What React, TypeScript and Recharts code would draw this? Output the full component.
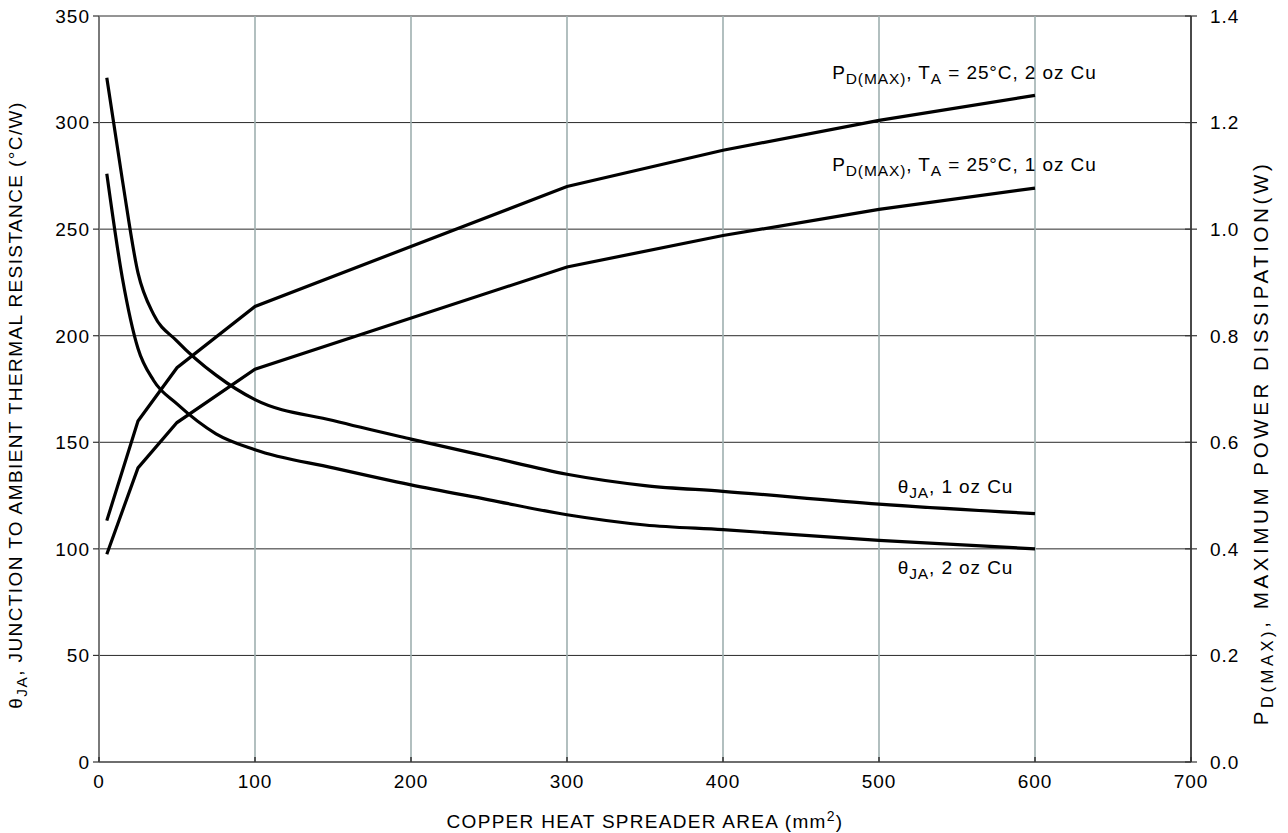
import React from 'react';
import { LineChart, Line, XAxis, YAxis, CartesianGrid, ReferenceDot } from 'recharts';

// ---- data ----
const areas = [5, 15, 25, 35, 50, 75, 100, 150, 200, 250, 300, 350, 400, 500, 600];
const thetaJA1oz = [321, 273, 229.5, 210, 197.5, 181.5, 170, 160.2, 151.5, 143.2, 135, 129.7, 127, 121, 116.5];
const thetaJA2oz = [276, 227, 194, 179, 168, 154, 146.5, 138, 130, 123, 116, 111.2, 109, 104, 100];
// power dissipation (read only at the polyline vertices)
const pd1oz = [0.39, null, 0.552, null, 0.637, null, 0.737, null, null, null, 0.929, null, 0.988, 1.037, 1.077];
const pd2oz = [0.453, null, 0.64, null, 0.74, null, 0.855, null, null, null, 1.08, null, 1.148, 1.204, 1.251];

const xTicks = [0, 100, 200, 300, 400, 500, 600, 700];
const leftTicks = [0, 50, 100, 150, 200, 250, 300, 350];
const rightTicks = [0, 0.2, 0.4, 0.6, 0.8, 1.0, 1.2, 1.4];

const data = areas.map((a, i) => ({
  area: a,
  t1: thetaJA1oz[i],
  t2: thetaJA2oz[i],
  p1: pd1oz[i],
  p2: pd2oz[i],
}));

const FONT = '"Liberation Sans", Arial, Helvetica, sans-serif';
const FS = 19;
const SUB = 15.5;

type Seg = { t: string; sub?: boolean };
const pdLabel = (oz: string): Seg[] => [
  { t: 'P' }, { t: 'D(MAX)', sub: true }, { t: ', T' }, { t: 'A', sub: true }, { t: ` = 25\u00B0C, ${oz} oz Cu` },
];
const thetaLabel = (oz: string): Seg[] => [
  { t: '\u03B8' }, { t: 'JA', sub: true }, { t: `, ${oz} oz Cu` },
];

const annotations = [
  { x: 470, y: 1.281, axis: 'right', segs: pdLabel('2') },
  { x: 470, y: 1.109, axis: 'right', segs: pdLabel('1') },
  { x: 512, y: 126.3, axis: 'left', segs: thetaLabel('1') },
  { x: 512, y: 88.0, axis: 'left', segs: thetaLabel('2') },
];

const renderSegs = (segs: Seg[], fs = FS, sub = SUB) => {
  let prevSub = false;
  return segs.map((s, i) => {
    let dy = 0;
    if (s.sub && !prevSub) dy = 5;
    if (!s.sub && prevSub) dy = -5;
    prevSub = !!s.sub;
    return (
      <tspan key={i} dy={dy} fontSize={s.sub ? sub : fs}>
        {s.t}
      </tspan>
    );
  });
};

const AnnotText = (segs: Seg[]) => (props: any) => {
  const vb = props.viewBox || {};
  return (
    <text x={vb.x} y={vb.y} fill="#000" fontFamily={FONT} fontSize={FS} letterSpacing={0.9} textAnchor="start">
      {renderSegs(segs)}
    </text>
  );
};

const XTick = (props: any) => {
  const { x, y, payload } = props;
  return (
    <g>
      <line x1={x} x2={x} y1={y - 5} y2={y} stroke="#333" strokeWidth={1.5} />
      <text x={x} y={y + 26} textAnchor="middle" fill="#000" fontFamily={FONT} fontSize={FS} letterSpacing={1}>
        {payload.value}
      </text>
    </g>
  );
};

const LeftTick = (props: any) => {
  const { x, y, payload } = props;
  return (
    <g>
      <line x1={x - 6} x2={x} y1={y} y2={y} stroke="#333" strokeWidth={1.2} />
      <text x={x - 9} y={y} dy="0.36em" textAnchor="end" fill="#000" fontFamily={FONT} fontSize={FS} letterSpacing={1}>
        {payload.value}
      </text>
    </g>
  );
};

const RightTick = (props: any) => {
  const { x, y, payload } = props;
  return (
    <g>
      <line x1={x - 6} x2={x + 6} y1={y} y2={y} stroke="#333" strokeWidth={1.2} />
      <text x={x + 19} y={y} dy="0.36em" textAnchor="start" fill="#000" fontFamily={FONT} fontSize={FS} letterSpacing={1}>
        {Number(payload.value).toFixed(1)}
      </text>
    </g>
  );
};

const LeftTitle = (props: any) => {
  const vb = props.viewBox || { x: 0, y: 0, width: 0, height: 0 };
  const cx = vb.x + 22;
  const cy = vb.y + vb.height / 2 + 16;
  return (
    <text x={cx} y={cy} transform={`rotate(-90, ${cx}, ${cy})`} textAnchor="middle" dy="0.36em" fill="#000" fontFamily={FONT} fontSize={FS} letterSpacing={1.4}>
      {renderSegs([{ t: '\u03B8' }, { t: 'JA', sub: true }, { t: ', JUNCTION TO AMBIENT THERMAL RESISTANCE (\u00B0C/W)' }])}
    </text>
  );
};

const RightTitle = (props: any) => {
  const vb = props.viewBox || { x: 0, y: 0, width: 0, height: 0 };
  const cx = vb.x + 77;
  const cy = vb.y + vb.height / 2 + 54;
  return (
    <text x={cx} y={cy} transform={`rotate(-90, ${cx}, ${cy})`} textAnchor="middle" dy="0.36em" fill="#000" fontFamily={FONT} fontSize={20.5} letterSpacing={3.6}>
      {renderSegs([{ t: 'P' }, { t: 'D(MAX)', sub: true }, { t: ', MAXIMUM POWER DISSIPATION(W)' }], 20.5, 16.5)}
    </text>
  );
};

const BottomTitle = (props: any) => {
  const vb = props.viewBox || { x: 0, y: 0, width: 0, height: 0 };
  const cx = vb.x + vb.width / 2;
  const cy = vb.y + 66;
  return (
    <text x={cx} y={cy} textAnchor="middle" fill="#000" fontFamily={FONT} fontSize={FS} letterSpacing={1.3}>
      <tspan>COPPER HEAT SPREADER AREA (mm</tspan>
      <tspan dy={-7} fontSize={14}>2</tspan>
      <tspan dy={7}>)</tspan>
    </text>
  );
};

export default function App() {
  return (
    <div style={{ position: 'absolute', left: 0, top: 0, width: 1288, height: 833, background: '#fff' }}>
      <LineChart width={1288} height={833} data={data} margin={{ top: 16, right: 0, bottom: 0, left: 0 }}>
        <CartesianGrid yAxisId="left" vertical={false} stroke="#2a2a2a" strokeWidth={1} />
        <CartesianGrid yAxisId="left" horizontal={false} stroke="#9fb0b0" strokeWidth={1.6} />
        <XAxis
          dataKey="area"
          type="number"
          domain={[0, 700]}
          ticks={xTicks}
          interval={0}
          height={71}
          tickSize={0}
          tickMargin={0}
          tickLine={false}
          tick={<XTick />}
          axisLine={{ stroke: '#6e6e6e', strokeWidth: 2 }}
          label={{ content: BottomTitle }}
        />
        <YAxis
          yAxisId="left"
          domain={[0, 350]}
          ticks={leftTicks}
          interval={0}
          width={99}
          tickSize={0}
          tickMargin={0}
          tickLine={false}
          tick={<LeftTick />}
          axisLine={{ stroke: '#7a7a7a', strokeWidth: 2 }}
          label={{ content: LeftTitle }}
        />
        <YAxis
          yAxisId="right"
          orientation="right"
          domain={[0, 1.4]}
          ticks={rightTicks}
          interval={0}
          width={97}
          tickSize={0}
          tickMargin={0}
          tickLine={false}
          tick={<RightTick />}
          axisLine={{ stroke: '#4a4a4a', strokeWidth: 2 }}
          label={{ content: RightTitle }}
        />
        <Line yAxisId="left" type="monotone" dataKey="t1" stroke="#000" strokeWidth={3.2} dot={false} activeDot={false} isAnimationActive={false} />
        <Line yAxisId="left" type="monotone" dataKey="t2" stroke="#000" strokeWidth={3.2} dot={false} activeDot={false} isAnimationActive={false} />
        <Line yAxisId="right" type="linear" dataKey="p1" connectNulls stroke="#000" strokeWidth={3.2} dot={false} activeDot={false} isAnimationActive={false} />
        <Line yAxisId="right" type="linear" dataKey="p2" connectNulls stroke="#000" strokeWidth={3.2} dot={false} activeDot={false} isAnimationActive={false} />
        {annotations.map((a, i) => (
          <ReferenceDot
            key={i}
            x={a.x}
            y={a.y}
            yAxisId={a.axis}
            r={0}
            fill="none"
            stroke="none"
            label={{ content: AnnotText(a.segs) }}
          />
        ))}
      </LineChart>
    </div>
  );
}
